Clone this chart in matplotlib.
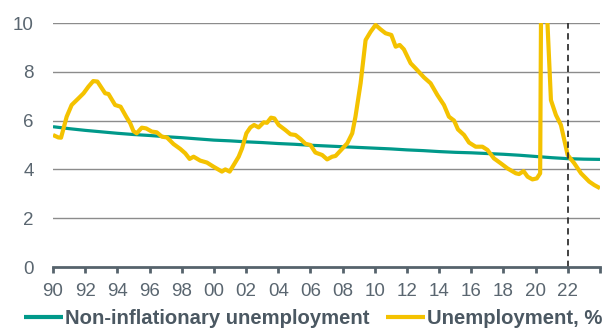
import matplotlib
matplotlib.use("Agg")
import matplotlib.pyplot as plt

plt.rcParams["font.family"] = ["Liberation Sans", "DejaVu Sans"]

# Unemployment rate, % (time in fractional years)
unemp_t = [1990.0, 1990.33, 1990.5, 1990.85, 1991.16, 1991.58, 1991.9, 1992.2, 1992.5, 1992.76,
           1993.24, 1993.45, 1993.86, 1994.2, 1994.55, 1994.8, 1995.0, 1995.2, 1995.52, 1995.79,
           1996.14, 1996.45, 1996.77, 1997.08, 1997.49, 1997.91, 1998.22, 1998.49, 1998.74, 1999.15,
           1999.57, 1999.98, 2000.5, 2000.71, 2000.98, 2001.23, 2001.54, 2001.75, 2002.02, 2002.27,
           2002.5, 2002.78, 2003.1, 2003.3, 2003.55, 2003.76, 2004.03, 2004.45, 2004.76, 2005.07,
           2005.38, 2005.69, 2006.0, 2006.31, 2006.73, 2007.04, 2007.35, 2007.56, 2007.87, 2008.29,
           2008.6, 2008.8, 2009.12, 2009.43, 2009.74, 2010.05, 2010.36, 2010.67, 2011.03, 2011.3,
           2011.55, 2011.81, 2012.23, 2012.54, 2013.06, 2013.47, 2013.89, 2014.3, 2014.61, 2014.93,
           2015.17, 2015.55, 2015.86, 2016.27, 2016.69, 2017.0, 2017.41, 2017.83, 2018.25, 2018.77,
           2018.97, 2019.25, 2019.5, 2019.8, 2020.07, 2020.28, 2020.37, 2020.5, 2020.62, 2020.72,
           2020.95, 2021.26, 2021.57, 2021.99, 2022.4, 2022.82, 2023.33, 2023.64, 2024.0]
unemp_v = [5.41, 5.31, 5.30, 6.16, 6.64, 6.91, 7.12, 7.39, 7.62, 7.60,
           7.12, 7.09, 6.64, 6.57, 6.16, 5.89, 5.57, 5.48, 5.71, 5.68,
           5.55, 5.52, 5.34, 5.31, 5.04, 4.84, 4.66, 4.43, 4.52, 4.36,
           4.28, 4.11, 3.91, 4.00, 3.91, 4.18, 4.52, 4.86, 5.48, 5.72,
           5.82, 5.72, 5.93, 5.91, 6.12, 6.09, 5.82, 5.61, 5.44, 5.41,
           5.25, 5.05, 5.00, 4.69, 4.59, 4.41, 4.52, 4.55, 4.77, 5.07,
           5.48, 6.16, 7.53, 9.30, 9.64, 9.92, 9.74, 9.58, 9.51, 9.03,
           9.10, 8.92, 8.35, 8.14, 7.77, 7.53, 7.05, 6.64, 6.16, 6.00,
           5.64, 5.41, 5.10, 4.93, 4.93, 4.80, 4.45, 4.25, 4.04, 3.84,
           3.81, 3.93, 3.70, 3.59, 3.63, 3.84, 14.7, 13.0, 11.0, 10.2,
           6.84, 6.23, 5.82, 4.59, 4.25, 3.84, 3.50, 3.36, 3.23]

# Non-inflationary rate of unemployment, annual
nairu_t = list(range(1990, 2025))
nairu_v = [5.75, 5.67, 5.60, 5.54, 5.48, 5.43, 5.39, 5.34, 5.30, 5.25,
           5.20, 5.17, 5.13, 5.10, 5.06, 5.03, 4.99, 4.96, 4.93, 4.90,
           4.87, 4.84, 4.80, 4.77, 4.73, 4.70, 4.68, 4.65, 4.62, 4.58,
           4.53, 4.48, 4.44, 4.42, 4.41]

x_ticks = list(range(1990, 2025, 2))
x_labels = [f"{t % 100:02d}" for t in x_ticks[:-1]] + [""]
y_ticks = [0, 2, 4, 6, 8, 10]
forecast_start = 2022

teal = "#00998A"
gold = "#F4C200"
text_col = "#5A6670"
axis_col = "#56636C"

fig = plt.figure(figsize=(6.12, 3.30), dpi=100)
ax = fig.add_axes([53 / 612, 1 - 267 / 330, 547 / 612, 244 / 330])

for y in y_ticks[1:]:
    ax.axhline(y, color="#8C8C8C", lw=1.0, zorder=1)

ax.plot(nairu_t, nairu_v, color=teal, lw=2.3, zorder=3,
        label="Non-inflationary unemployment", solid_capstyle="butt")
ax.plot(unemp_t, unemp_v, color=gold, lw=3.0, zorder=4,
        label="Unemployment, %", solid_joinstyle="round", solid_capstyle="butt")
ax.axvline(forecast_start, color="#333333", lw=1.3, ls=(0, (3.5, 2.5)), zorder=5)

ax.set_xlim(1990, 2024)
ax.set_ylim(0, 10)
ax.set_xticks(x_ticks)
ax.set_xticklabels(x_labels)
ax.set_yticks(y_ticks)

for side in ["top", "right", "left"]:
    ax.spines[side].set_visible(False)
ax.spines["bottom"].set_color(axis_col)
ax.spines["bottom"].set_linewidth(2.0)
ax.spines["bottom"].set_zorder(6)
ax.tick_params(axis="x", direction="out", length=4.5, width=2.0, color=axis_col,
               labelsize=13.5, labelcolor=text_col, pad=7)
ax.tick_params(axis="y", length=0, labelsize=13.5, labelcolor=text_col, pad=14)

leg = fig.legend(loc="center", bbox_to_anchor=(313 / 612, 1 - 319 / 330), ncol=2, frameon=False,
                 handlelength=1.92, handletextpad=0.1, columnspacing=0.84,
                 prop={"size": 14.6, "weight": "bold"})
for t in leg.get_texts():
    t.set_color("#4B5862")
for h in leg.get_lines():
    h.set_linewidth(3.0)

fig.savefig("out.png", dpi=100)
